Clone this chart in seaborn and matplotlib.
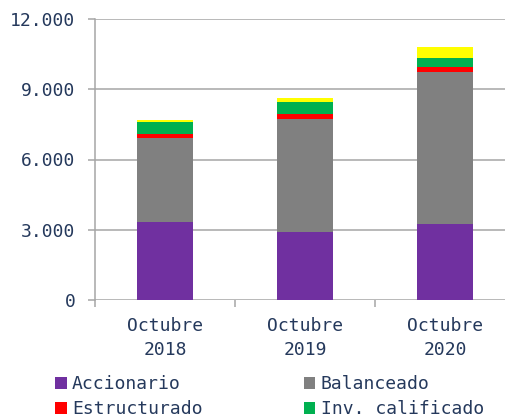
import numpy as np
import pandas as pd
import matplotlib
matplotlib.use("Agg")
import matplotlib.pyplot as plt
import seaborn as sns
from matplotlib.patches import Patch
from matplotlib.ticker import FuncFormatter, FixedLocator

# data
categories = ["Octubre\n2018", "Octubre\n2019", "Octubre\n2020"]
accionario = [3310, 2890, 3230]
balanceado = [3600, 4840, 6505]
estructurado = [170, 225, 215]
inv_calificado = [525, 515, 370]
otros = [85, 140, 470]

series = ["Accionario", "Balanceado", "Estructurado", "Inv. calificado", "Otros"]
colors = ["#7030A0", "#808080", "#FF0000", "#00B050", "#FFFF00"]
yticks = [0, 3000, 6000, 9000, 12000]

text_color = "#25395c"
grid_color = "#a6a6a6"

sns.set_theme(style="white")
plt.rcParams["font.family"] = ["DejaVu Sans Mono", "DejaVu Sans"]
plt.rcParams["font.size"] = 13

df = pd.DataFrame({"cat": categories, "Accionario": accionario, "Balanceado": balanceado,
                   "Estructurado": estructurado, "Inv. calificado": inv_calificado,
                   "Otros": otros})

fig = plt.figure(figsize=(5.05, 4.17), dpi=100)
ax = fig.add_axes([95 / 505, 1 - 300 / 417, 420 / 505, 281 / 417])

bottom = np.zeros(len(categories))
for name, c in zip(series, colors):
    sns.barplot(data=df, x="cat", y=name, bottom=bottom, color=c, width=0.4,
                saturation=1, edgecolor="none", ax=ax)
    bottom = bottom + df[name].values

ax.set_xlim(-0.5, 2.5)
ax.set_ylim(0, 12000)
ax.set_yticks(yticks)
ax.yaxis.set_major_formatter(FuncFormatter(lambda v, p: f"{int(v):,}".replace(",", ".")))
ax.set_xlabel("")
ax.set_ylabel("")

ax.set_axisbelow(True)
ax.grid(axis="y", color=grid_color, linewidth=1.1)
for s in ["top", "right", "bottom"]:
    ax.spines[s].set_visible(False)
ax.spines["left"].set_color(grid_color)
ax.spines["left"].set_linewidth(1.1)
ax.spines["left"].set_bounds(0, 12000)

ax.tick_params(axis="y", which="major", length=5, width=1.1, color=grid_color,
               labelcolor=text_color, labelsize=13, pad=9, left=True)
ax.tick_params(axis="x", which="major", length=0, labelcolor=text_color,
               labelsize=13, pad=12)
ax.xaxis.set_minor_locator(FixedLocator([-0.5, 0.5, 1.5, 2.5]))
ax.tick_params(axis="x", which="minor", length=5, width=1.1, color=grid_color, bottom=True)
for lbl in ax.get_xticklabels():
    lbl.set_linespacing(1.45)
    lbl.set_horizontalalignment("center")

handles = [Patch(facecolor=colors[i], edgecolor="none") for i in [0, 2, 1, 3]]
labels = [series[i] for i in [0, 2, 1, 3]]
leg = fig.legend(handles, labels, ncol=2, loc="upper left",
                 bbox_to_anchor=(55 / 505, 1 - 375 / 417), frameon=False,
                 handlelength=0.65, handleheight=0.65, handletextpad=0.3,
                 columnspacing=5.6, labelspacing=0.4, fontsize=13, borderaxespad=0,
                 borderpad=0)
for t in leg.get_texts():
    t.set_color(text_color)

fig.savefig("out.png", dpi=100)
